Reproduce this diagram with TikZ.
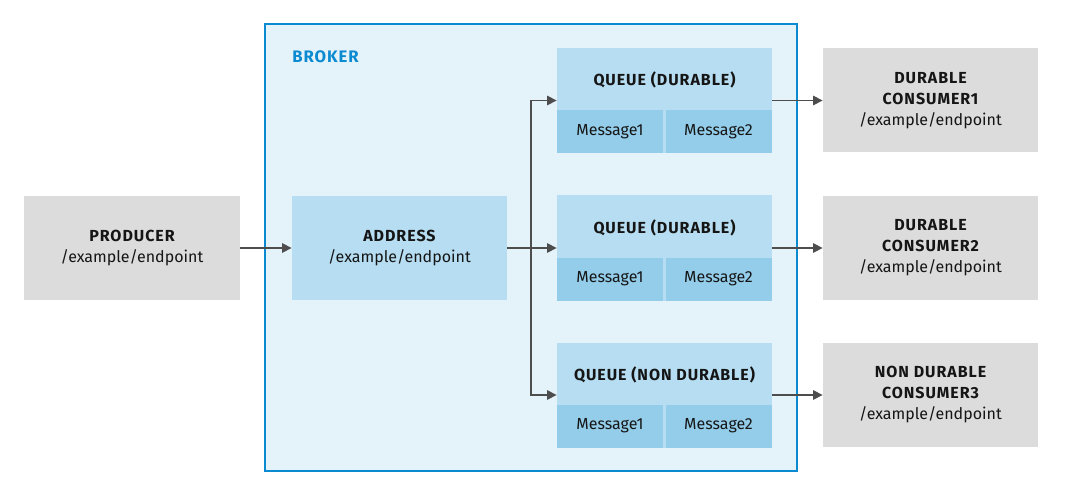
\documentclass[tikz,border=0pt]{standalone}
\usepackage{fontspec}
\setmainfont{Fira Sans}
\newfontfamily\titlefont[LetterSpace=6]{Fira Sans Bold}
\usetikzlibrary{arrows.meta}
\definecolor{brokerfill}{HTML}{E4F2FA}
\definecolor{brokerline}{HTML}{0A8AD0}
\definecolor{qtop}{HTML}{B6DDF1}
\definecolor{qmsg}{HTML}{93CDEA}
\definecolor{grayfill}{HTML}{DCDCDC}
\definecolor{arrowc}{HTML}{4D4D4D}
\definecolor{txt}{HTML}{151515}
\newcommand{\ttl}[1]{{\titlefont #1}}
\tikzset{
  box/.style={draw=none, minimum width=161.5pt, minimum height=78pt, inner sep=0pt,
    align=center, text=txt, font=\fontsize{12}{15.75}\selectfont},
  graybox/.style={box, fill=grayfill},
  addrbox/.style={box, fill=qtop},
  qbox/.style={box, fill=qtop, minimum height=78.75pt},
  qtitle/.style={inner sep=0pt, text=txt, font=\fontsize{12}{15.75}\selectfont\titlefont},
  msgbox/.style={fill=qmsg, minimum width=79.5pt, minimum height=32.25pt, inner sep=0pt,
    text=txt, font=\fontsize{12}{14}\selectfont},
  conn/.style={draw=arrowc, line width=1.1pt, -{Triangle[length=7pt,width=7pt]}},
}
\begin{document}
\begin{tikzpicture}[x=0.75pt,y=-0.75pt]
\useasboundingbox (0,0) rectangle (1080,488);
\fill[white] (0,0) rectangle (1080,488);
% broker
\node[draw=brokerline, line width=1.5pt, fill=brokerfill, minimum width=399pt, minimum height=335.25pt, inner sep=0pt] (broker) at (531,247.5) {};
\node[anchor=west, inner sep=0pt, text=brokerline, font=\fontsize{12.5}{14}\selectfont\titlefont] (brokerlbl) at (292,57) {BROKER};
% producer
\node[graybox] (prod) at (132,248) {\ttl{PRODUCER}\\/example/endpoint};
% address
\node[addrbox] (addr) at (399.5,248) {\ttl{ADDRESS}\\/example/endpoint};
% queues
\node[qbox] (q1) at (664.5,100.5) {};
\node[qtitle] (q1t) at (664.5,80) {QUEUE (DURABLE)};
\node[msgbox] (q1a) at (610,131.5) {Message1};
\node[msgbox] (q1b) at (718.5,131.5) {Message2};

\node[qbox] (q2) at (664.5,248) {};
\node[qtitle] (q2t) at (664.5,227.5) {QUEUE (DURABLE)};
\node[msgbox] (q2a) at (610,279) {Message1};
\node[msgbox] (q2b) at (718.5,279) {Message2};

\node[qbox] (q3) at (664.5,395) {};
\node[qtitle] (q3t) at (664.5,374.5) {QUEUE (NON DURABLE)};
\node[msgbox] (q3a) at (610,426) {Message1};
\node[msgbox] (q3b) at (718.5,426) {Message2};
% consumers
\node[graybox] (c1) at (930.5,100.5) {\ttl{DURABLE}\\\ttl{CONSUMER1}\\/example/endpoint};
\node[graybox] (c2) at (930.5,248) {\ttl{DURABLE}\\\ttl{CONSUMER2}\\/example/endpoint};
\node[graybox] (c3) at (930.5,395) {\ttl{NON DURABLE}\\\ttl{CONSUMER3}\\/example/endpoint};
% connectors
\coordinate (br) at (531,248);
\draw[conn] (prod) -- (addr);
\draw[conn] (addr) -- (q2);
\draw[conn] (br) |- (q1.west);
\draw[conn] (br) |- (q3.west);
\draw[conn] (q1) -- (c1);
\draw[conn] (q2) -- (c2);
\draw[conn] (q3) -- (c3);
\end{tikzpicture}
\end{document}
